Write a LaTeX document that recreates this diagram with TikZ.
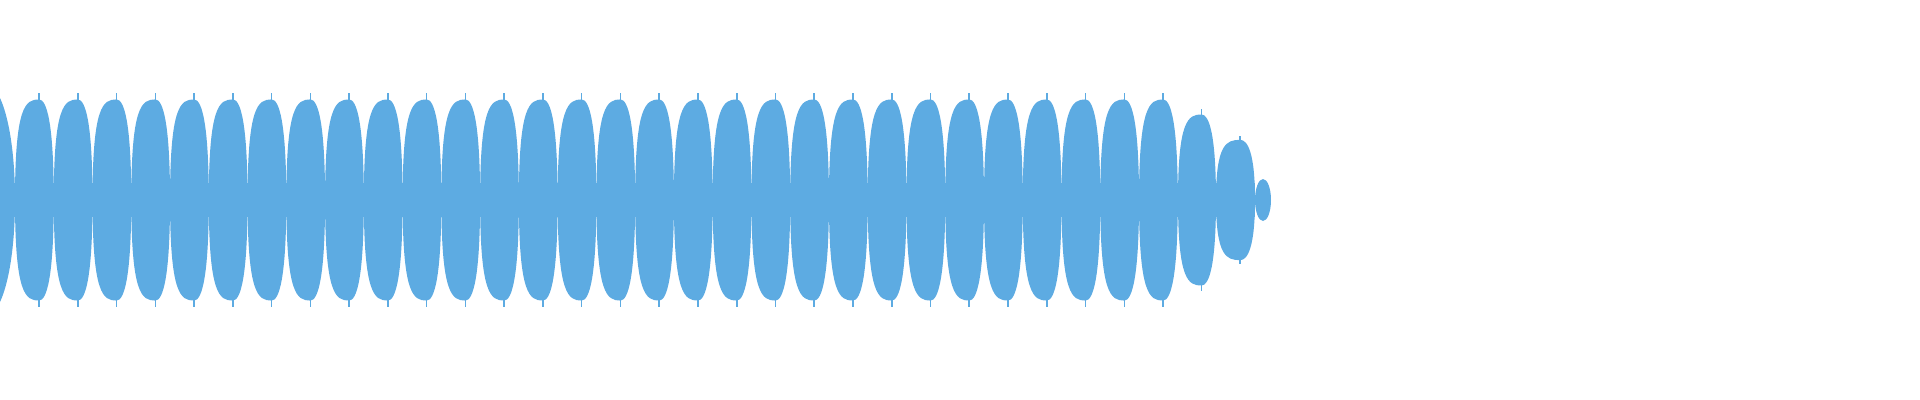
\documentclass[tikz,border=0pt]{standalone}
\definecolor{wave}{RGB}{93,171,226}
\newcommand{\lobe}[3]{% a, b, A
  \pgfmathsetmacro{\w}{#2-#1}\pgfmathsetmacro{\p}{#1+0.62*\w}
  \fill[wave] (#1,200) .. controls (#1,200-0.88*#3) and (\p-0.35*\w,200-0.94*#3) .. (\p,200-0.94*#3)
    .. controls (\p+0.2*\w,200-0.94*#3) and (#2,200-0.72*#3) .. (#2,200)
    .. controls (#2,200+0.72*#3) and (\p+0.2*\w,200+0.94*#3) .. (\p,200+0.94*#3)
    .. controls (\p-0.35*\w,200+0.94*#3) and (#1,200+0.88*#3) .. (#1,200) -- cycle;
  \fill[wave] (\p-0.8,200-#3) rectangle (\p+0.8,200+#3);}
\begin{document}
\begin{tikzpicture}[x=0.01cm,y=-0.01cm]
\useasboundingbox (0,0) rectangle (1920,400);
\fill[wave] (0,183) rectangle (1255,217);
% partial first lobe
\fill[wave] (0,98) .. controls (8,115) and (15,150) .. (15,200) .. controls (15,250) and (8,285) .. (0,302) -- cycle;
\foreach \k in {0,...,29}{
  \pgfmathsetmacro{\a}{15+38.76*\k}\pgfmathsetmacro{\b}{15+38.76*(\k+1)}
  \lobe{\a}{\b}{107}}
\lobe{1178}{1216}{91}
\lobe{1216}{1255}{64}
\fill[wave] (1263,200) ellipse [x radius=8, y radius=21];
\end{tikzpicture}
\end{document}
